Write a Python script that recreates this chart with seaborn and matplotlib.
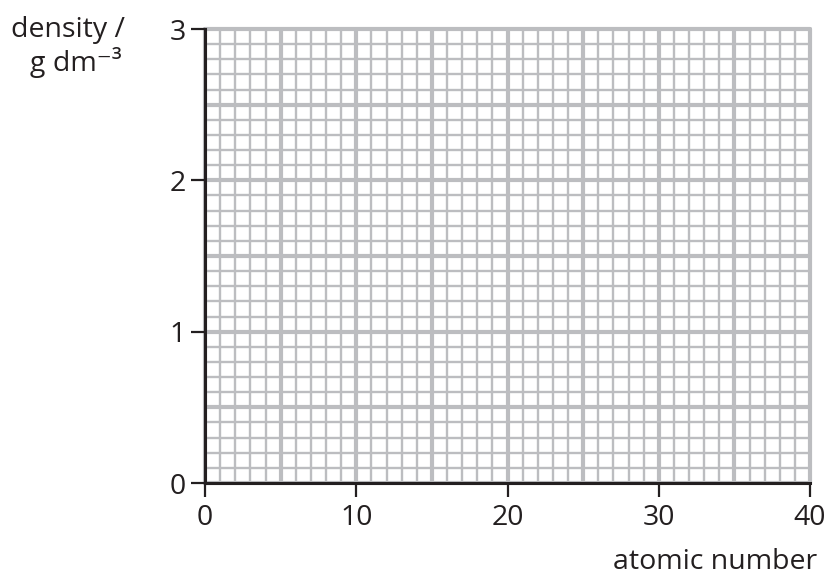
import numpy as np
import pandas as pd
import matplotlib
matplotlib.use('Agg')
import matplotlib.pyplot as plt
import seaborn as sns
from matplotlib.ticker import MultipleLocator

# --- Data (blank graph grid) ---
x_ticks = [0, 10, 20, 30, 40]
y_ticks = [0, 1, 2, 3]
x_label = 'atomic number'
y_label_top = 'density /'
y_label_bottom = 'g dm\u207b\u00b3'

# --- Setup ---
sns.set_style('white')
plt.rcParams['font.family'] = ['Open Sans', 'DejaVu Sans']
grid_col = '#bcbdc0'
ink = '#231f20'
fs = 20.5

fig = plt.figure(figsize=(8.3, 5.79), dpi=100)
ax = fig.add_axes([205 / 830, 1 - 483 / 579, 605 / 830, 454 / 579])

# empty plot drawn through seaborn so the axes use its scales
sns.lineplot(x=pd.Series([], dtype=float), y=pd.Series([], dtype=float), ax=ax)

ax.set_xlim(x_ticks[0], x_ticks[-1])
ax.set_ylim(y_ticks[0], y_ticks[-1])
ax.set_xticks(x_ticks)
ax.set_yticks(y_ticks)

# graph paper grid
for v in np.arange(0, 40.01, 1):
    lw = 3.0 if v % 5 == 0 else 1.7
    ax.axvline(v, color=grid_col, lw=lw, zorder=0, clip_on=False)
for v in np.arange(0, 3.001, 0.1):
    lw = 3.0 if round(v * 10) % 5 == 0 else 1.7
    ax.axhline(v, color=grid_col, lw=lw, zorder=0, clip_on=False)

for s in ['top', 'right']:
    ax.spines[s].set_visible(False)
for s in ['left', 'bottom']:
    ax.spines[s].set_color(ink)
    ax.spines[s].set_linewidth(2.2)
    ax.spines[s].set_zorder(3)

ax.tick_params(which='major', direction='out', length=10, width=1.6,
               color=ink, labelsize=fs, labelcolor=ink,
               bottom=True, left=True)
ax.tick_params(axis='x', pad=5)
ax.tick_params(axis='y', pad=4)

fig.text(817 / 830, 1 - 562 / 579, x_label, ha='right', va='center',
         fontsize=fs, color=ink)
fig.text(68 / 830, 1 - 30 / 579, y_label_top, ha='center', va='center',
         fontsize=fs, color=ink)
fig.text(76 / 830, 1 - 63 / 579, y_label_bottom, ha='center', va='center',
         fontsize=fs, color=ink)

plt.savefig('out.png', dpi=100)
plt.close()
